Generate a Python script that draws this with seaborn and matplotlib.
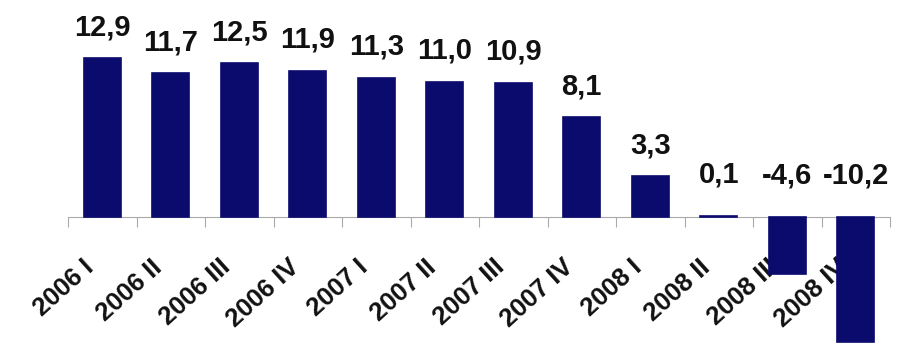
import matplotlib
matplotlib.use("Agg")
import matplotlib.pyplot as plt
import matplotlib.transforms as mtransforms
import seaborn as sns
import pandas as pd

categories = ["2006 I", "2006 II", "2006 III", "2006 IV",
              "2007 I", "2007 II", "2007 III", "2007 IV",
              "2008 I", "2008 II", "2008 III", "2008 IV"]
values = [12.9, 11.7, 12.5, 11.9, 11.3, 11.0, 10.9, 8.1, 3.3, 0.1, -4.6, -10.2]
value_labels = ["12,9", "11,7", "12,5", "11,9", "11,3", "11,0", "10,9",
                "8,1", "3,3", "0,1", "-4,6", "-10,2"]

sns.set_theme(style="white")
plt.rcParams['font.family'] = ['Liberation Sans', 'DejaVu Sans']

df = pd.DataFrame({"cat": categories, "val": values})

fig = plt.figure(figsize=(9, 3.47), dpi=100)
ax = fig.add_axes([68/900, 0, (890-68)/900, 1])
sns.barplot(data=df, x="cat", y="val", color="#0b0b6e", saturation=1,
            width=0.54, ax=ax, order=categories,
            edgecolor="#0b0b6e", linewidth=1.2)

ax.set_xlim(-0.5, len(categories) - 0.5)
ax.set_ylim(-10.57, 17.64)
ax.set_xlabel("")
ax.set_ylabel("")
ax.set_yticks([])
for s in ["top", "right", "left"]:
    ax.spines[s].set_visible(False)
ax.spines["bottom"].set_position(("data", 0))
ax.spines["bottom"].set_color("#aaaaaa")
ax.spines["bottom"].set_linewidth(0.8)
ax.spines["bottom"].set_zorder(0.5)

# category boundaries as major ticks, labels on minor ticks
ax.set_xticks([i - 0.5 for i in range(len(categories) + 1)])
ax.set_xticklabels([])
ax.set_xticks(range(len(categories)), minor=True)
ax.set_xticklabels(categories, minor=True, rotation=42, ha="right", va="top",
                   rotation_mode="anchor", fontsize=18.5, fontweight="bold",
                   color="#111111")
ax.tick_params(axis="x", which="major", direction="out", length=7,
               color="#aaaaaa", width=0.8, bottom=True)
ax.tick_params(axis="x", which="minor", length=0, pad=0)
offset = mtransforms.ScaledTranslation(-20/100, -38/100, fig.dpi_scale_trans)
for lab in ax.get_xticklabels(minor=True):
    lab.set_transform(lab.get_transform() + offset)

for i, (v, t) in enumerate(zip(values, value_labels)):
    y = max(v, 0)
    off = 17 if v > 1 else 27
    ax.annotate(t, (i, y), xytext=(0, off), textcoords="offset pixels",
                ha="center", va="bottom", fontsize=21, fontweight="bold",
                color="#111111")

fig.savefig("out.png", dpi=100, facecolor="white")
